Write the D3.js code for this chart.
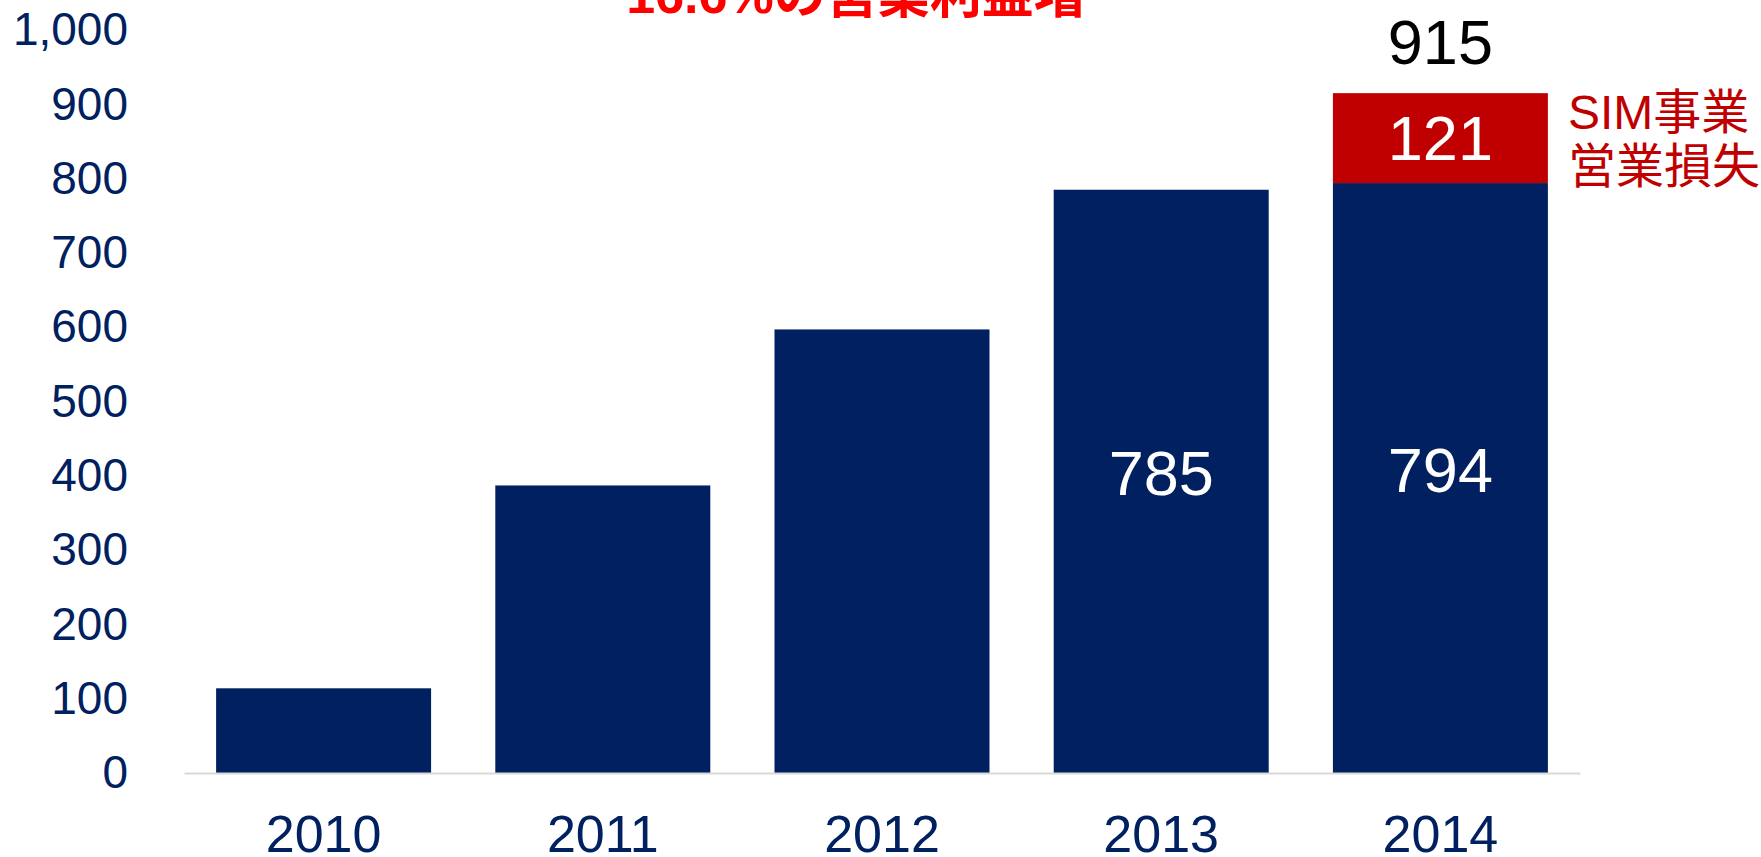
<!DOCTYPE html>
<html>
<head>
<meta charset="utf-8">
<script src="https://cdn.jsdelivr.net/npm/d3@7"></script>
<style>
  body { margin: 0; background: #fff; }
  svg { display: block; font-family: "Liberation Sans", Arial, "Noto Sans CJK JP", sans-serif; }
</style>
</head>
<body>
<svg id="chart"></svg>
<script>
const years = ["2010", "2011", "2012", "2013", "2014"];
const baseProfit = [114, 387, 597, 785, 794];
const simLoss = [0, 0, 0, 0, 121];
const yTicks = [0, 100, 200, 300, 400, 500, 600, 700, 800, 900, 1000];
const labeledYears = ["2013", "2014"];
const title = "16.6%の営業利益増";
const simNote = ["SIM事業", "営業損失"];

const width = 1761;
const height = 857;
const navy = "#002060";
const darkRed = "#c00000";

const svg = d3.select("#chart").attr("width", width).attr("height", height);

// stacked data
const dataArray = years.map((y, i) => ({ year: y, base: baseProfit[i], sim: simLoss[i] }));
const series = d3.stack().keys(["base", "sim"])(dataArray);

// scales
const xScale = d3
  .scaleBand()
  .domain(years)
  .range([184, 1580])
  .paddingInner(0.23)
  .paddingOuter(0.115);

const yScale = d3.scaleLinear().domain([0, 1000]).range([773, 30]);

// bars
const colors = { base: navy, sim: darkRed };
svg
  .selectAll("g.layer")
  .data(series)
  .enter()
  .append("g")
  .attr("class", "layer")
  .attr("fill", (d) => colors[d.key])
  .selectAll("rect")
  .data((d) => d.filter((p) => p[1] > p[0]))
  .enter()
  .append("rect")
  .attr("x", (d) => xScale(d.data.year))
  .attr("y", (d) => yScale(d[1]))
  .attr("width", xScale.bandwidth())
  .attr("height", (d) => yScale(d[0]) - yScale(d[1]));

// axes
const xAxis = d3.axisBottom(xScale).tickSize(0).tickPadding(42);
const gx = svg.append("g").attr("transform", `translate(0, ${yScale(0)})`).call(xAxis);
gx.select(".domain").attr("stroke", "#d9d9d9").attr("stroke-width", 2);
gx.selectAll("text")
  .attr("fill", navy)
  .attr("font-size", "52px")
  .attr("font-family", null);

const yAxis = d3
  .axisLeft(yScale)
  .tickValues(yTicks)
  .tickFormat(d3.format(","))
  .tickSize(0)
  .tickPadding(0);
const gy = svg.append("g").attr("transform", "translate(128, 0)").call(yAxis);
gy.select(".domain").remove();
gy.selectAll("text")
  .attr("fill", navy)
  .attr("font-size", "46px")
  .attr("font-family", null);

// value labels inside the bars
series.forEach((s) => {
  svg
    .selectAll(null)
    .data(s.filter((p) => labeledYears.includes(p.data.year) && p[1] > p[0]))
    .enter()
    .append("text")
    .attr("x", (d) => xScale(d.data.year) + xScale.bandwidth() / 2)
    .attr("y", (d) => (yScale(d[0]) + yScale(d[1])) / 2)
    .attr("dy", s.key === "base" ? "0.22em" : "0.35em")
    .attr("text-anchor", "middle")
    .attr("fill", "#fff")
    .attr("font-size", "63px")
    .text((d) => d[1] - d[0]);
});

// total on top of last bar
const last = dataArray[dataArray.length - 1];
svg
  .append("text")
  .attr("x", xScale(last.year) + xScale.bandwidth() / 2)
  .attr("y", yScale(last.base + last.sim) - 29)
  .attr("text-anchor", "middle")
  .attr("fill", "#000")
  .attr("font-size", "63px")
  .text(last.base + last.sim);

// SIM note
const noteX = xScale(last.year) + xScale.bandwidth() + 20;
svg
  .append("text")
  .attr("y", 129)
  .attr("fill", darkRed)
  .attr("font-size", "48px")
  .selectAll("tspan")
  .data(simNote)
  .enter()
  .append("tspan")
  .attr("x", noteX)
  .attr("dy", (d, i) => (i === 0 ? 0 : 54))
  .text((d) => d);

// title (cut off at the top)
svg
  .append("text")
  .attr("x", 856)
  .attr("y", 13)
  .attr("text-anchor", "middle")
  .attr("fill", "#ff0000")
  .attr("font-weight", "bold")
  .attr("font-size", "52px")
  .text(title);
</script>
</body>
</html>
